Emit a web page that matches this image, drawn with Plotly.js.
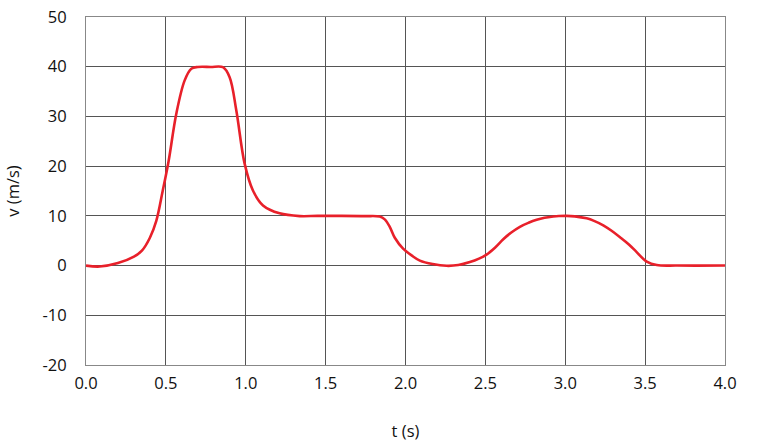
<!DOCTYPE html>
<html>
<head>
<meta charset="utf-8">
<script src="https://cdn.plot.ly/plotly-3.0.1.min.js"></script>
<style>html,body{margin:0;padding:0;background:#fff;}#chart{width:760px;height:448px;}</style>
</head>
<body>
<div id="chart"></div>
<script>
const timeS = [0,0.085,0.2,0.3,0.35,0.4,0.44,0.48,0.517,0.565,0.617,0.659,0.7,0.78,0.857,0.899,0.941,0.993,1.045,1.108,1.212,1.338,1.45,1.6,1.75,1.839,1.87,1.9,1.933,1.985,2.04,2.09,2.17,2.257,2.33,2.403,2.46,2.507,2.56,2.612,2.66,2.716,2.77,2.821,2.87,2.925,2.96,3.008,3.06,3.134,3.18,3.238,3.29,3.343,3.4,3.447,3.51,3.573,3.7,4.0];
const velocity = [0,-0.2,0.5,1.8,3.0,5.6,9,15,21,30.5,37.2,39.6,39.95,39.95,39.9,37.9,31.2,20.5,15.1,12.1,10.5,9.95,10,10,9.95,9.85,9.3,7.9,5.6,3.4,2.0,1.0,0.3,-0.05,0.1,0.7,1.4,2.2,3.6,5.3,6.6,7.8,8.6,9.2,9.6,9.86,9.96,10.0,9.9,9.5,9.0,8.1,7.0,5.7,4.2,2.7,0.8,0.1,0,0];
const xTicks = [0,0.5,1,1.5,2,2.5,3,3.5,4];
const xTickLabels = ['0.0','0.5','1.0','1.5','2.0','2.5','3.0','3.5','4.0'];
const yTicks = [-20,-10,0,10,20,30,40,50];
const yTickLabels = ['-20','-10','0','10','20','30','40','50'];

const font = {family: 'Open Sans, Lato, sans-serif', size: 16.5, color: '#111'};
Plotly.newPlot('chart', [{
  x: timeS, y: velocity, type: 'scatter', mode: 'lines',
  line: {color: '#e8202a', width: 2.6, shape: 'spline', smoothing: 1},
  hoverinfo: 'skip'
}], {
  width: 760, height: 448,
  margin: {l: 86, r: 35, t: 17, b: 83},
  paper_bgcolor: '#fff', plot_bgcolor: '#fff',
  showlegend: false,
  font: font,
  xaxis: {
    range: [0, 4], tickvals: xTicks, ticktext: xTickLabels,
    showgrid: true, gridcolor: '#555', gridwidth: 1,
    showline: true, linecolor: '#888', linewidth: 1, mirror: true,
    zeroline: false, ticks: '', ticklabelstandoff: 3,
    title: {text: 't (s)', font: font, standoff: 32},
    automargin: false, fixedrange: true
  },
  yaxis: {
    range: [-20, 50], tickvals: yTicks, ticktext: yTickLabels,
    showgrid: true, gridcolor: '#555', gridwidth: 1,
    showline: true, linecolor: '#888', linewidth: 1, mirror: true,
    zeroline: false, ticks: '', ticklabelstandoff: 15,
    title: {text: 'v (m/s)', font: font, standoff: 18},
    automargin: false, fixedrange: true
  }
}, {displayModeBar: false, staticPlot: true});
</script>
</body>
</html>
